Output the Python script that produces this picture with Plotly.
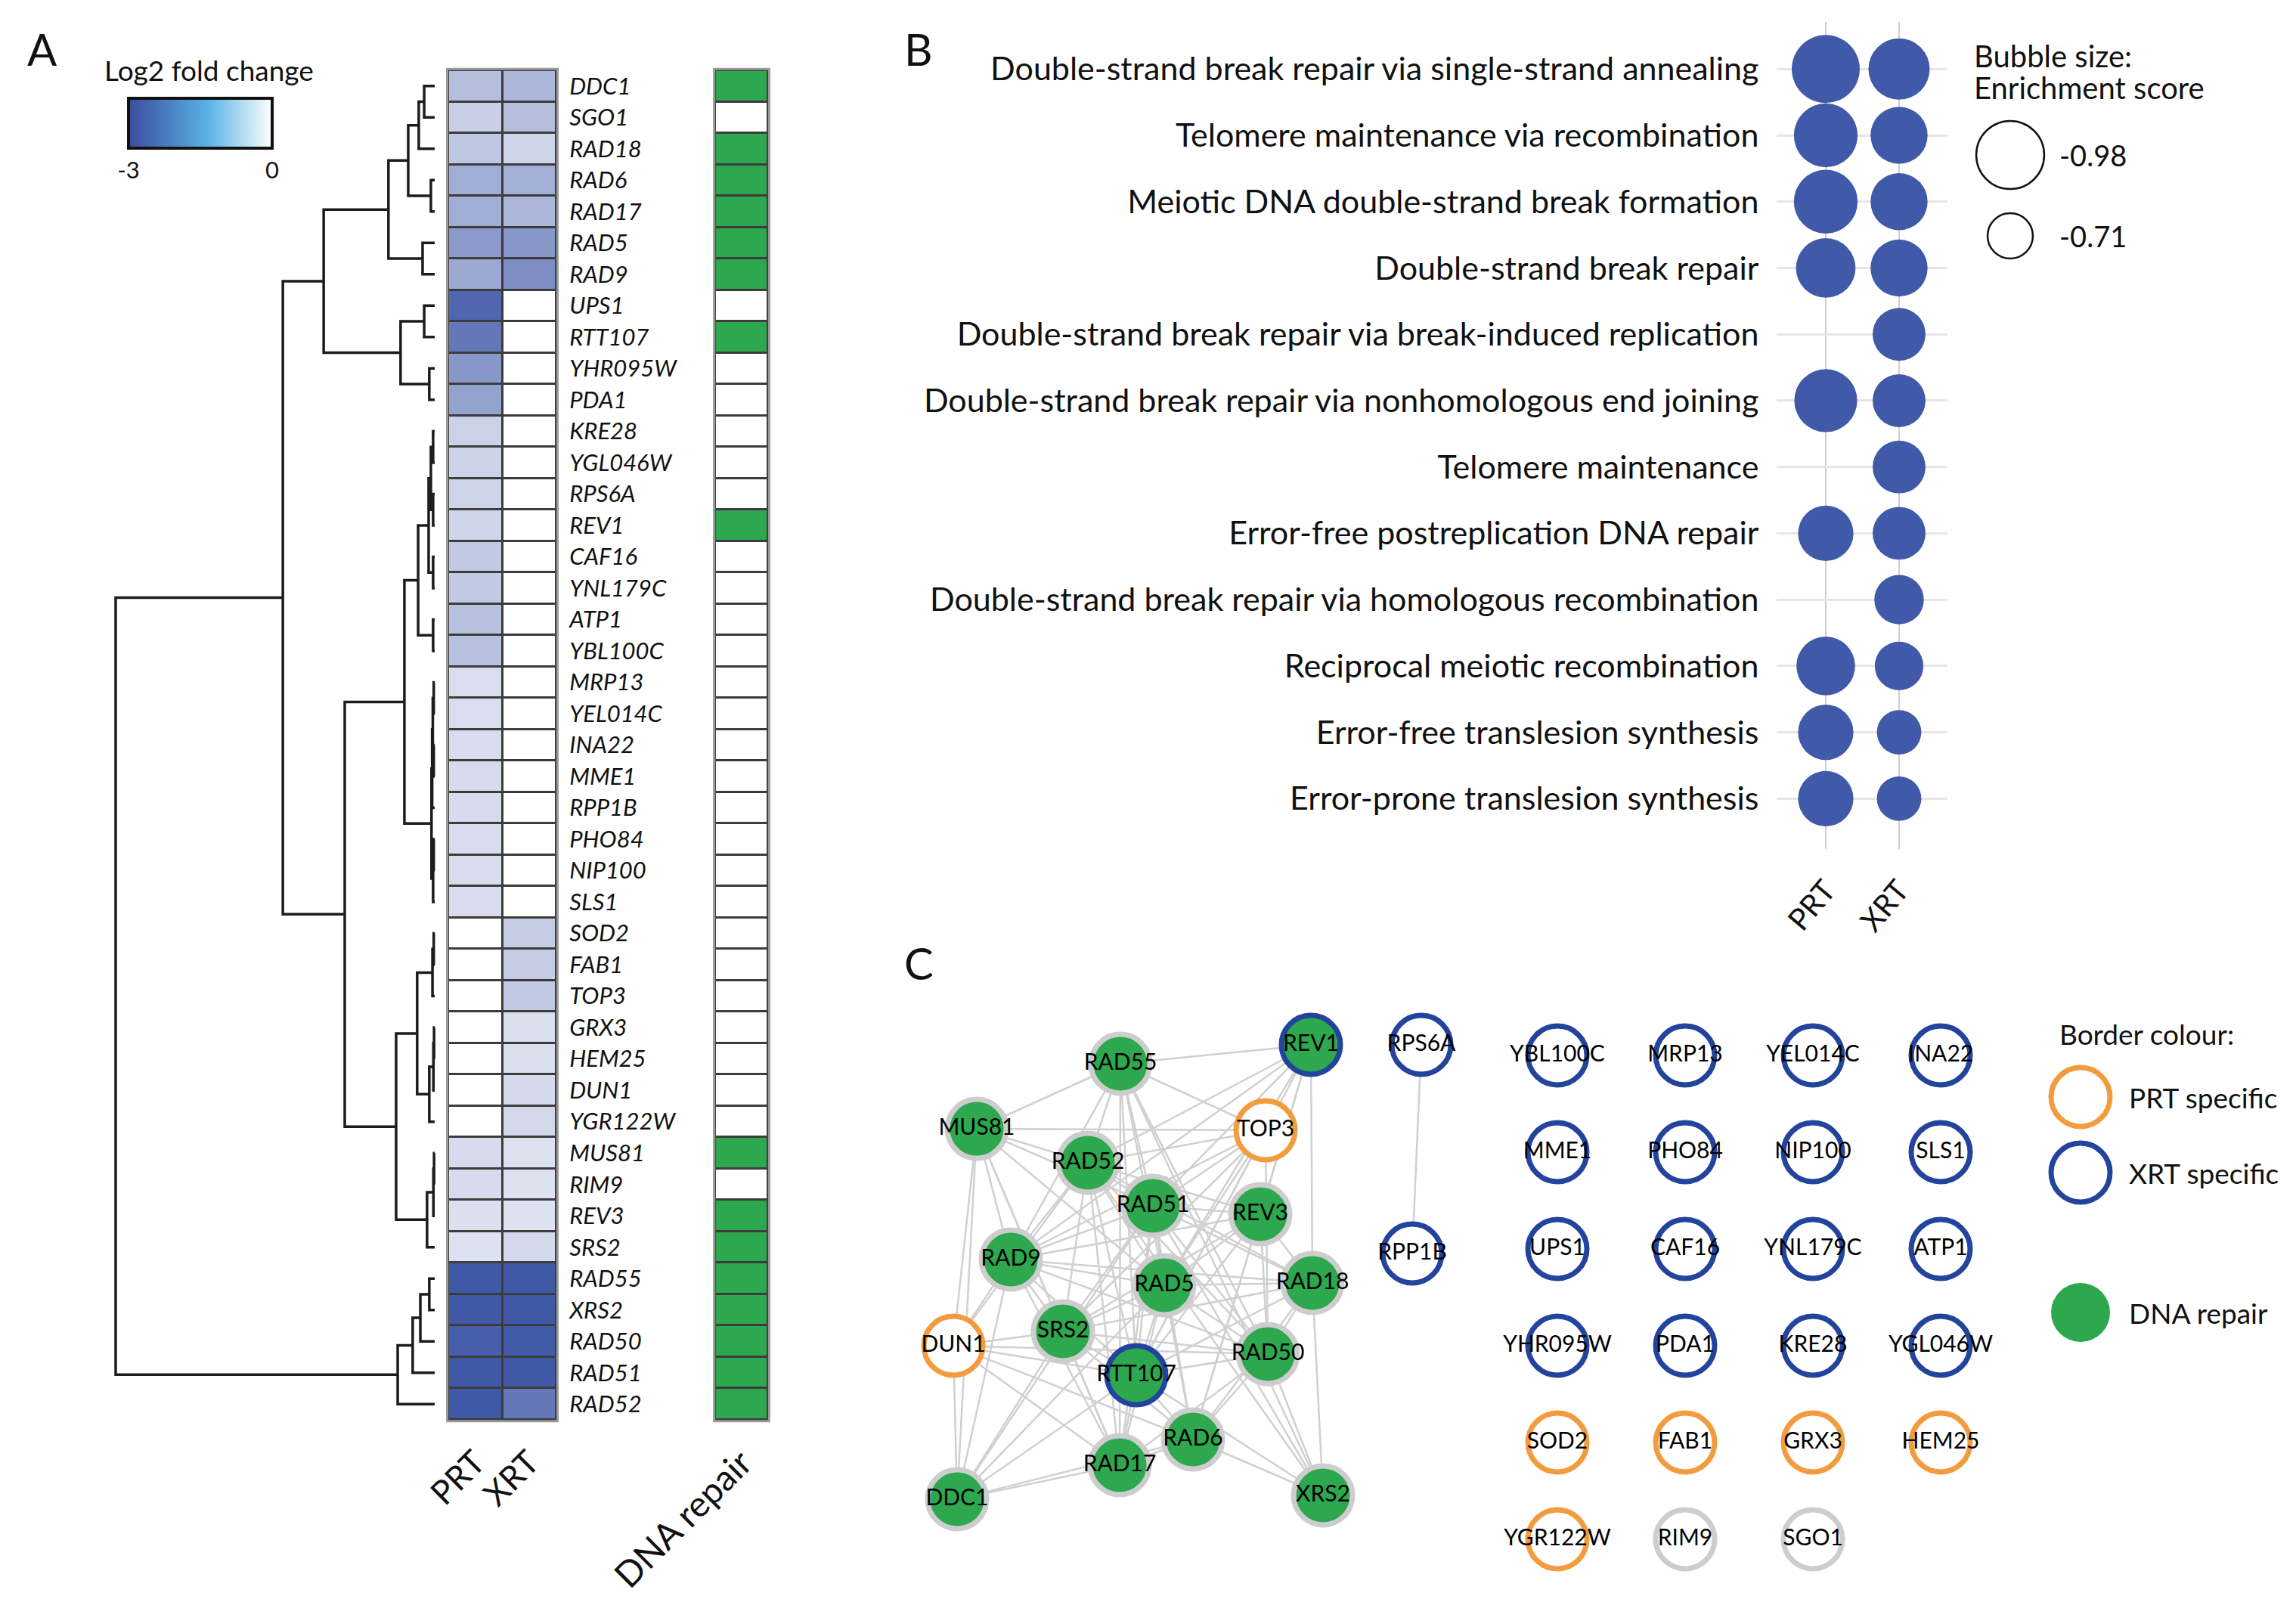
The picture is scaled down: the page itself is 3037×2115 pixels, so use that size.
import plotly.graph_objects as go

W, H = 3037, 2115
FONT = "Lato"

# ---------------- Panel A data ----------------
genes = ["DDC1", "SGO1", "RAD18", "RAD6", "RAD17", "RAD5", "RAD9", "UPS1", "RTT107", "YHR095W", "PDA1",
         "KRE28", "YGL046W", "RPS6A", "REV1", "CAF16", "YNL179C", "ATP1", "YBL100C",
         "MRP13", "YEL014C", "INA22", "MME1", "RPP1B", "PHO84", "NIP100", "SLS1",
         "SOD2", "FAB1", "TOP3", "GRX3", "HEM25", "DUN1", "YGR122W",
         "MUS81", "RIM9", "REV3", "SRS2", "RAD55", "XRS2", "RAD50", "RAD51", "RAD52"]
prt_lfc = [-1.15, -0.85, -1.0, -1.45, -1.45, -1.8, -1.55, -2.7, -2.4, -1.85, -1.65,
           -0.8, -0.78, -0.75, -0.72, -0.95, -0.95, -1.12, -1.12,
           -0.58, -0.58, -0.6, -0.62, -0.62, -0.6, -0.6, -0.6,
           0, 0, 0, 0, 0, 0, 0,
           -0.63, -0.63, -0.55, -0.52, -2.95, -2.95, -2.85, -2.95, -2.95]
xrt_lfc = [-1.3, -1.15, -0.75, -1.4, -1.3, -1.85, -2.0, 0, 0, 0, 0,
           0, 0, 0, 0, 0, 0, 0, 0,
           0, 0, 0, 0, 0, 0, 0, 0,
           -0.9, -0.9, -0.95, -0.57, -0.57, -0.66, -0.7,
           -0.52, -0.52, -0.52, -0.66, -2.95, -2.95, -2.92, -2.95, -2.4]
dna_repair = [1, 0, 1, 1, 1, 1, 1, 0, 1, 0, 0,
              0, 0, 0, 1, 0, 0, 0, 0,
              0, 0, 0, 0, 0, 0, 0, 0,
              0, 0, 0, 0, 0, 0, 0,
              1, 0, 1, 1, 1, 1, 1, 1, 1]
conditions = ["PRT", "XRT"]

# hierarchical clustering (child, child, merge height)
top5 = ((("DDC1", "SGO1", 0.033), "RAD18", 0.050), ("RAD6", "RAD17", 0.012), 0.083)
top7 = (top5, ("RAD5", "RAD9", 0.038), 0.145)
ups = (("UPS1", "RTT107", 0.033), ("YHR095W", "PDA1", 0.017), 0.107)
top11 = (top7, ups, 0.348)
midA = (((("KRE28", "YGL046W", 0.005), ("RPS6A", "REV1", 0.005), 0.012), ("CAF16", "YNL179C", 0.005), 0.019),
        ("ATP1", "YBL100C", 0.005), 0.052)
midB = (((("MRP13", "YEL014C", 0.003), ("INA22", "MME1", 0.003), 0.006), "RPP1B", 0.008),
        (("PHO84", "NIP100", 0.003), "SLS1", 0.005), 0.010)
midC = ((("SOD2", "FAB1", 0.003), "TOP3", 0.007), ((("GRX3", "HEM25", 0.002), "DUN1", 0.004), "YGR122W", 0.017), 0.055)
midD = ((("MUS81", "RIM9", 0.002), "REV3", 0.004), "SRS2", 0.024)
middle = ((midA, midB, 0.095), (midC, midD, 0.121), 0.282)
bottom = (((("RAD55", "XRS2", 0.017), "RAD50", 0.045), "RAD51", 0.069), "RAD52", 0.116)
tree = ((top11, middle, 0.476), bottom, 1.0)

# ---------------- Panel B data ----------------
go_terms = ["Double-strand break repair via single-strand annealing",
            "Telomere maintenance via recombination",
            "Meiotic DNA double-strand break formation",
            "Double-strand break repair",
            "Double-strand break repair via break-induced replication",
            "Double-strand break repair via nonhomologous end joining",
            "Telomere maintenance",
            "Error-free postreplication DNA repair",
            "Double-strand break repair via homologous recombination",
            "Reciprocal meiotic recombination",
            "Error-free translesion synthesis",
            "Error-prone translesion synthesis"]
prt_es = [-0.98, -0.93, -0.93, -0.88, None, -0.92, None, -0.83, None, -0.87, -0.83, -0.83]
xrt_es = [-0.90, -0.85, -0.85, -0.85, -0.80, -0.80, -0.80, -0.80, -0.76, -0.75, -0.70, -0.70]
legend_es = [-0.98, -0.71]

# ---------------- Panel C data ----------------
net_genes = ["REV1", "RAD55", "MUS81", "TOP3", "RAD52", "RAD51", "REV3", "RAD9", "RAD5", "RAD18",
             "SRS2", "DUN1", "RTT107", "RAD50", "RAD6", "RAD17", "DDC1", "XRS2", "RPS6A", "RPP1B"]
net_x = [1734, 1482, 1292, 1674, 1439, 1525, 1667, 1337, 1540, 1736,
         1406, 1261, 1503, 1677, 1578, 1481, 1266, 1750, 1880, 1868]
net_y = [1382, 1407, 1493, 1495, 1538, 1595, 1606, 1666, 1700, 1697,
         1761, 1780, 1819, 1791, 1904, 1938, 1983, 1978, 1382, 1658]
edges = [("REV1", "RAD55"), ("REV1", "REV3"), ("REV1", "RAD18"), ("REV1", "RAD52"), ("REV1", "RAD51"),
         ("REV1", "RAD5"), ("REV1", "RTT107"), ("REV1", "RAD6"), ("REV1", "RAD9"),
         ("RAD55", "RAD52"), ("RAD55", "RAD51"), ("RAD55", "RAD5"), ("RAD55", "RAD17"), ("RAD55", "RTT107"),
         ("RAD55", "MUS81"), ("RAD55", "RAD9"), ("RAD55", "TOP3"), ("RAD55", "XRS2"), ("RAD55", "RAD50"),
         ("MUS81", "TOP3"), ("MUS81", "RAD52"), ("MUS81", "RAD51"), ("MUS81", "RAD9"), ("MUS81", "DUN1"),
         ("MUS81", "RAD17"), ("MUS81", "RAD5"), ("MUS81", "SRS2"), ("MUS81", "DDC1"),
         ("TOP3", "RAD52"), ("TOP3", "RAD51"), ("TOP3", "RAD9"), ("TOP3", "SRS2"), ("TOP3", "RAD5"),
         ("TOP3", "RAD50"), ("TOP3", "RTT107"),
         ("RAD52", "RAD51"), ("RAD52", "RAD9"), ("RAD52", "RAD5"), ("RAD52", "SRS2"), ("RAD52", "REV3"),
         ("RAD52", "RAD18"), ("RAD52", "RAD50"), ("RAD52", "RTT107"), ("RAD52", "RAD17"), ("RAD52", "DUN1"),
         ("RAD52", "XRS2"),
         ("RAD51", "RAD5"), ("RAD51", "RAD18"), ("RAD51", "RAD50"), ("RAD51", "RTT107"), ("RAD51", "SRS2"),
         ("RAD51", "RAD9"), ("RAD51", "REV3"), ("RAD51", "DDC1"), ("RAD51", "RAD17"), ("RAD51", "XRS2"),
         ("RAD51", "RAD6"),
         ("REV3", "RAD5"), ("REV3", "RAD18"), ("REV3", "RAD9"), ("REV3", "RAD6"), ("REV3", "RTT107"),
         ("REV3", "RAD50"), ("REV3", "SRS2"),
         ("RAD9", "RAD5"), ("RAD9", "RAD18"), ("RAD9", "SRS2"), ("RAD9", "DUN1"), ("RAD9", "RTT107"),
         ("RAD9", "DDC1"), ("RAD9", "RAD17"), ("RAD9", "RAD50"),
         ("RAD5", "RAD18"), ("RAD5", "SRS2"), ("RAD5", "RTT107"), ("RAD5", "RAD50"), ("RAD5", "RAD6"),
         ("RAD5", "RAD17"), ("RAD5", "DDC1"),
         ("RAD18", "RAD6"), ("RAD18", "SRS2"), ("RAD18", "RTT107"), ("RAD18", "RAD50"), ("RAD18", "XRS2"),
         ("SRS2", "DUN1"), ("SRS2", "RTT107"), ("SRS2", "RAD50"), ("SRS2", "RAD6"), ("SRS2", "RAD17"),
         ("SRS2", "DDC1"),
         ("DUN1", "RTT107"), ("DUN1", "DDC1"), ("DUN1", "RAD17"), ("DUN1", "RAD50"), ("DUN1", "RAD6"),
         ("RTT107", "RAD50"), ("RTT107", "RAD6"), ("RTT107", "RAD17"), ("RTT107", "DDC1"), ("RTT107", "XRS2"),
         ("RAD50", "RAD6"), ("RAD50", "XRS2"), ("RAD50", "RAD17"),
         ("RAD6", "RAD17"), ("RAD6", "XRS2"), ("RAD6", "DDC1"), ("RAD17", "DDC1"),
         ("RPS6A", "RPP1B")]
isolated_rows = [["YBL100C", "MRP13", "YEL014C", "INA22"],
                 ["MME1", "PHO84", "NIP100", "SLS1"],
                 ["UPS1", "CAF16", "YNL179C", "ATP1"],
                 ["YHR095W", "PDA1", "KRE28", "YGL046W"],
                 ["SOD2", "FAB1", "GRX3", "HEM25"],
                 ["YGR122W", "RIM9", "SGO1"]]
grid_x0, grid_dx, grid_y0, grid_dy = 2060, 169, 1396, 128

# ---------------- colours ----------------
HEAT_DARK = "#3d56a6"
GREEN = "#2ea84f"
BUBBLE = "#4059a8"
ORANGE = "#f39c3f"
NAVY = "#23449c"
GREY_RING = "#cdcdcd"


def dx(a, b):
    return [a / W, b / W]


def dy(top, bot):
    return [1 - bot / H, 1 - top / H]


def px(x):
    return x / W


def py(y):
    return 1 - y / H


fig = go.Figure()

# ---- dendrogram ----
dxs, dys = [], []


def walk(n):
    if isinstance(n, str):
        return genes.index(n), 0.0
    a, b, h = n
    ya, ha = walk(a)
    yb, hb = walk(b)
    dxs.extend([ha, h, h, hb, None])
    dys.extend([ya, ya, yb, yb, None])
    return (ya + yb) / 2, h


walk(tree)
fig.add_trace(go.Scatter(x=dxs, y=dys, mode="lines", line=dict(color="#1c1c1c", width=3.5),
                         xaxis="x", yaxis="y", hoverinfo="skip", showlegend=False))

# ---- heatmap ----
fig.add_trace(go.Heatmap(z=[[p, x] for p, x in zip(prt_lfc, xrt_lfc)], x=[0, 1], y=list(range(len(genes))),
                         colorscale=[[0, HEAT_DARK], [1, "#ffffff"]], zmin=-3, zmax=0, showscale=False,
                         xgap=3, ygap=3, xaxis="x2", yaxis="y", hoverinfo="skip"))
fig.add_trace(go.Heatmap(z=[[d] for d in dna_repair], x=[0], y=list(range(len(genes))),
                         colorscale=[[0, "#ffffff"], [1, GREEN]], zmin=0, zmax=1, showscale=False,
                         xgap=3, ygap=3, xaxis="x3", yaxis="y", hoverinfo="skip"))

# colour key
fig.add_trace(go.Scatter(x=[0, 0], y=[0, 0], mode="markers", xaxis="x2", yaxis="y", hoverinfo="skip",
                         showlegend=False,
                         marker=dict(opacity=0, color=[-3, 0], cmin=-3, cmax=0,
                                     colorscale=[[0, "#3b4c9e"], [0.55, "#57b2e4"], [1, "#ffffff"]],
                                     showscale=True,
                                     colorbar=dict(orientation="h", x=px(265), xanchor="center",
                                                   y=py(130), yanchor="top", len=190, lenmode="pixels",
                                                   thickness=66, thicknessmode="pixels", outlinewidth=4,
                                                   outlinecolor="#111", tickvals=[-3, 0], ticktext=["-3", "0"],
                                                   ticks="", xpad=0, ypad=0,
                                                   tickfont=dict(size=31, family=FONT, color="#111")))))

# ---- Panel B bubbles ----
def es_size(s):
    return 111 * abs(s) - 18.9


for ci, vals in enumerate([prt_es, xrt_es]):
    yy = [i for i, v in enumerate(vals) if v is not None]
    ss = [es_size(v) for v in vals if v is not None]
    fig.add_trace(go.Scatter(x=[ci] * len(yy), y=yy, mode="markers", xaxis="x4", yaxis="y2",
                             marker=dict(size=ss, color=BUBBLE, opacity=1, line=dict(width=0)),
                             hoverinfo="skip", showlegend=False))

# bubble size key (overlay axis)
fig.add_trace(go.Scatter(x=[2659, 2659], y=[205, 312], mode="markers", xaxis="x5", yaxis="y3",
                         marker=dict(size=[es_size(v) for v in legend_es], color="white", opacity=1,
                                     line=dict(color="#111", width=2.5)),
                         hoverinfo="skip", showlegend=False))

# ---- Panel C network ----
pos = {g: (x, y) for g, x, y in zip(net_genes, net_x, net_y)}
for r, row in enumerate(isolated_rows):
    for c, g in enumerate(row):
        pos[g] = (grid_x0 + c * grid_dx, grid_y0 + r * grid_dy)

ex, ey = [], []
for a, b in edges:
    ex += [pos[a][0], pos[b][0], None]
    ey += [pos[a][1], pos[b][1], None]
fig.add_trace(go.Scatter(x=ex, y=ey, mode="lines", line=dict(color="#d0d0d0", width=2.5),
                         xaxis="x5", yaxis="y3", hoverinfo="skip", showlegend=False))


def ring_colour(g):
    i = genes.index(g)
    if prt_lfc[i] != 0 and xrt_lfc[i] == 0:
        return NAVY
    if prt_lfc[i] == 0 and xrt_lfc[i] != 0:
        return ORANGE
    return GREY_RING


node_names = list(pos.keys())
fig.add_trace(go.Scatter(
    x=[pos[g][0] for g in node_names], y=[pos[g][1] for g in node_names], mode="markers+text",
    text=node_names, textposition="middle center",
    textfont=dict(size=30, family=FONT, color="#000"),
    marker=dict(size=78, opacity=1, color=[GREEN if dna_repair[genes.index(g)] else "white" for g in node_names],
                line=dict(color=[ring_colour(g) for g in node_names], width=7)),
    xaxis="x5", yaxis="y3", hoverinfo="skip", showlegend=False))

# network key
fig.add_trace(go.Scatter(x=[2752, 2752, 2752], y=[1451, 1551, 1736], mode="markers",
                         marker=dict(size=78, opacity=1, color=["white", "white", GREEN],
                                     line=dict(color=[ORANGE, NAVY, GREEN], width=[7, 7, 0])),
                         xaxis="x5", yaxis="y3", hoverinfo="skip", showlegend=False))

# ---------------- layout ----------------
hide = dict(visible=False, showgrid=False, zeroline=False)
ann = []


def text(x, y, s, size, xanchor="left", yanchor="middle"):
    ann.append(dict(x=px(x), y=py(y), xref="paper", yref="paper", text=s, showarrow=False,
                    xanchor=xanchor, yanchor=yanchor, font=dict(size=size, family=FONT, color="#111")))


text(34, 64, "A", 58)
text(1194, 64, "B", 58)
text(1194, 1273, "C", 58)
text(136, 93, "Log2 fold change", 37)
text(2609, 74, "Bubble size:", 40)
text(2609, 116, "Enrichment score", 40)
text(2722, 205, "-0.98", 38)
text(2722, 312, "-0.71", 38)
text(2722, 1367, "Border colour:", 37)
text(2814, 1451, "PRT specific", 37)
text(2814, 1551, "XRT specific", 37)
text(2814, 1736, "DNA repair", 37)

fig.update_layout(
    width=W, height=H, template="none", paper_bgcolor="white", plot_bgcolor="rgba(0,0,0,0)",
    margin=dict(l=0, r=0, t=0, b=0), showlegend=False,
    font=dict(family=FONT, color="#111"),
    xaxis=dict(domain=dx(143, 585), range=[1 + 10 / 422, -10 / 422], anchor="y", **hide),
    xaxis2=dict(domain=dx(593, 736), range=[-0.5, 1.5], anchor="y", tickvals=[0, 1], ticktext=conditions,
                tickangle=-45, ticks="outside", ticklen=12, tickcolor="rgba(0,0,0,0)",
                tickfont=dict(size=44, family=FONT), showgrid=False, zeroline=False, showline=False,
                automargin=False),
    xaxis3=dict(domain=dx(946, 1016), range=[-0.5, 0.5], anchor="y", tickvals=[0], ticktext=["DNA repair"],
                tickangle=-45, ticks="outside", ticklen=10, tickcolor="rgba(0,0,0,0)",
                tickfont=dict(size=47, family=FONT), showgrid=False, zeroline=False, showline=False,
                automargin=False),
    yaxis=dict(domain=dy(93, 1878), range=[len(genes) - 0.5, -0.5], anchor="x2", side="right",
               tickvals=list(range(len(genes))), ticktext=["<i>%s</i>" % g for g in genes],
               ticks="outside", ticklen=10, tickcolor="rgba(0,0,0,0)", tickfont=dict(size=31, family=FONT),
               showgrid=False, zeroline=False, showline=False, automargin=False),
    xaxis4=dict(domain=dx(2350, 2576), range=[-0.67, 1.66], anchor="y2", tickvals=[0, 1], ticktext=conditions,
                tickangle=-50, ticks="outside", ticklen=14, tickcolor="rgba(0,0,0,0)",
                tickfont=dict(size=40, family=FONT), showgrid=True, gridcolor="#cfcfcf", gridwidth=2,
                zeroline=False, showline=False, automargin=False),
    yaxis2=dict(domain=dy(29, 1123), range=[11.76, -0.71], anchor="x4", tickvals=list(range(len(go_terms))),
                ticktext=go_terms, ticks="outside", ticklen=14, tickcolor="rgba(0,0,0,0)",
                tickfont=dict(size=43, family=FONT), showgrid=True, gridcolor="#e6e6e6", gridwidth=3,
                zeroline=False, showline=False, automargin=False),
    xaxis5=dict(domain=[0, 1], range=[0, W], anchor="y3", **hide),
    yaxis3=dict(domain=[0, 1], range=[H, 0], anchor="x5", **hide),
    annotations=ann,
    shapes=[
        dict(type="rect", xref="x2 domain", yref="y domain", x0=-0.01, x1=1.01, y0=-0.001, y1=1.001,
             fillcolor="#3c3c3c", line=dict(color="#9a9a9a", width=3), layer="below"),
        dict(type="rect", xref="x3 domain", yref="y domain", x0=-0.02, x1=1.02, y0=-0.001, y1=1.001,
             fillcolor="#3c3c3c", line=dict(color="#9a9a9a", width=3), layer="below"),
    ],
)

fig.write_html("out.html", config={"displayModeBar": False},
               post_script="document.body.style.margin='0';")
